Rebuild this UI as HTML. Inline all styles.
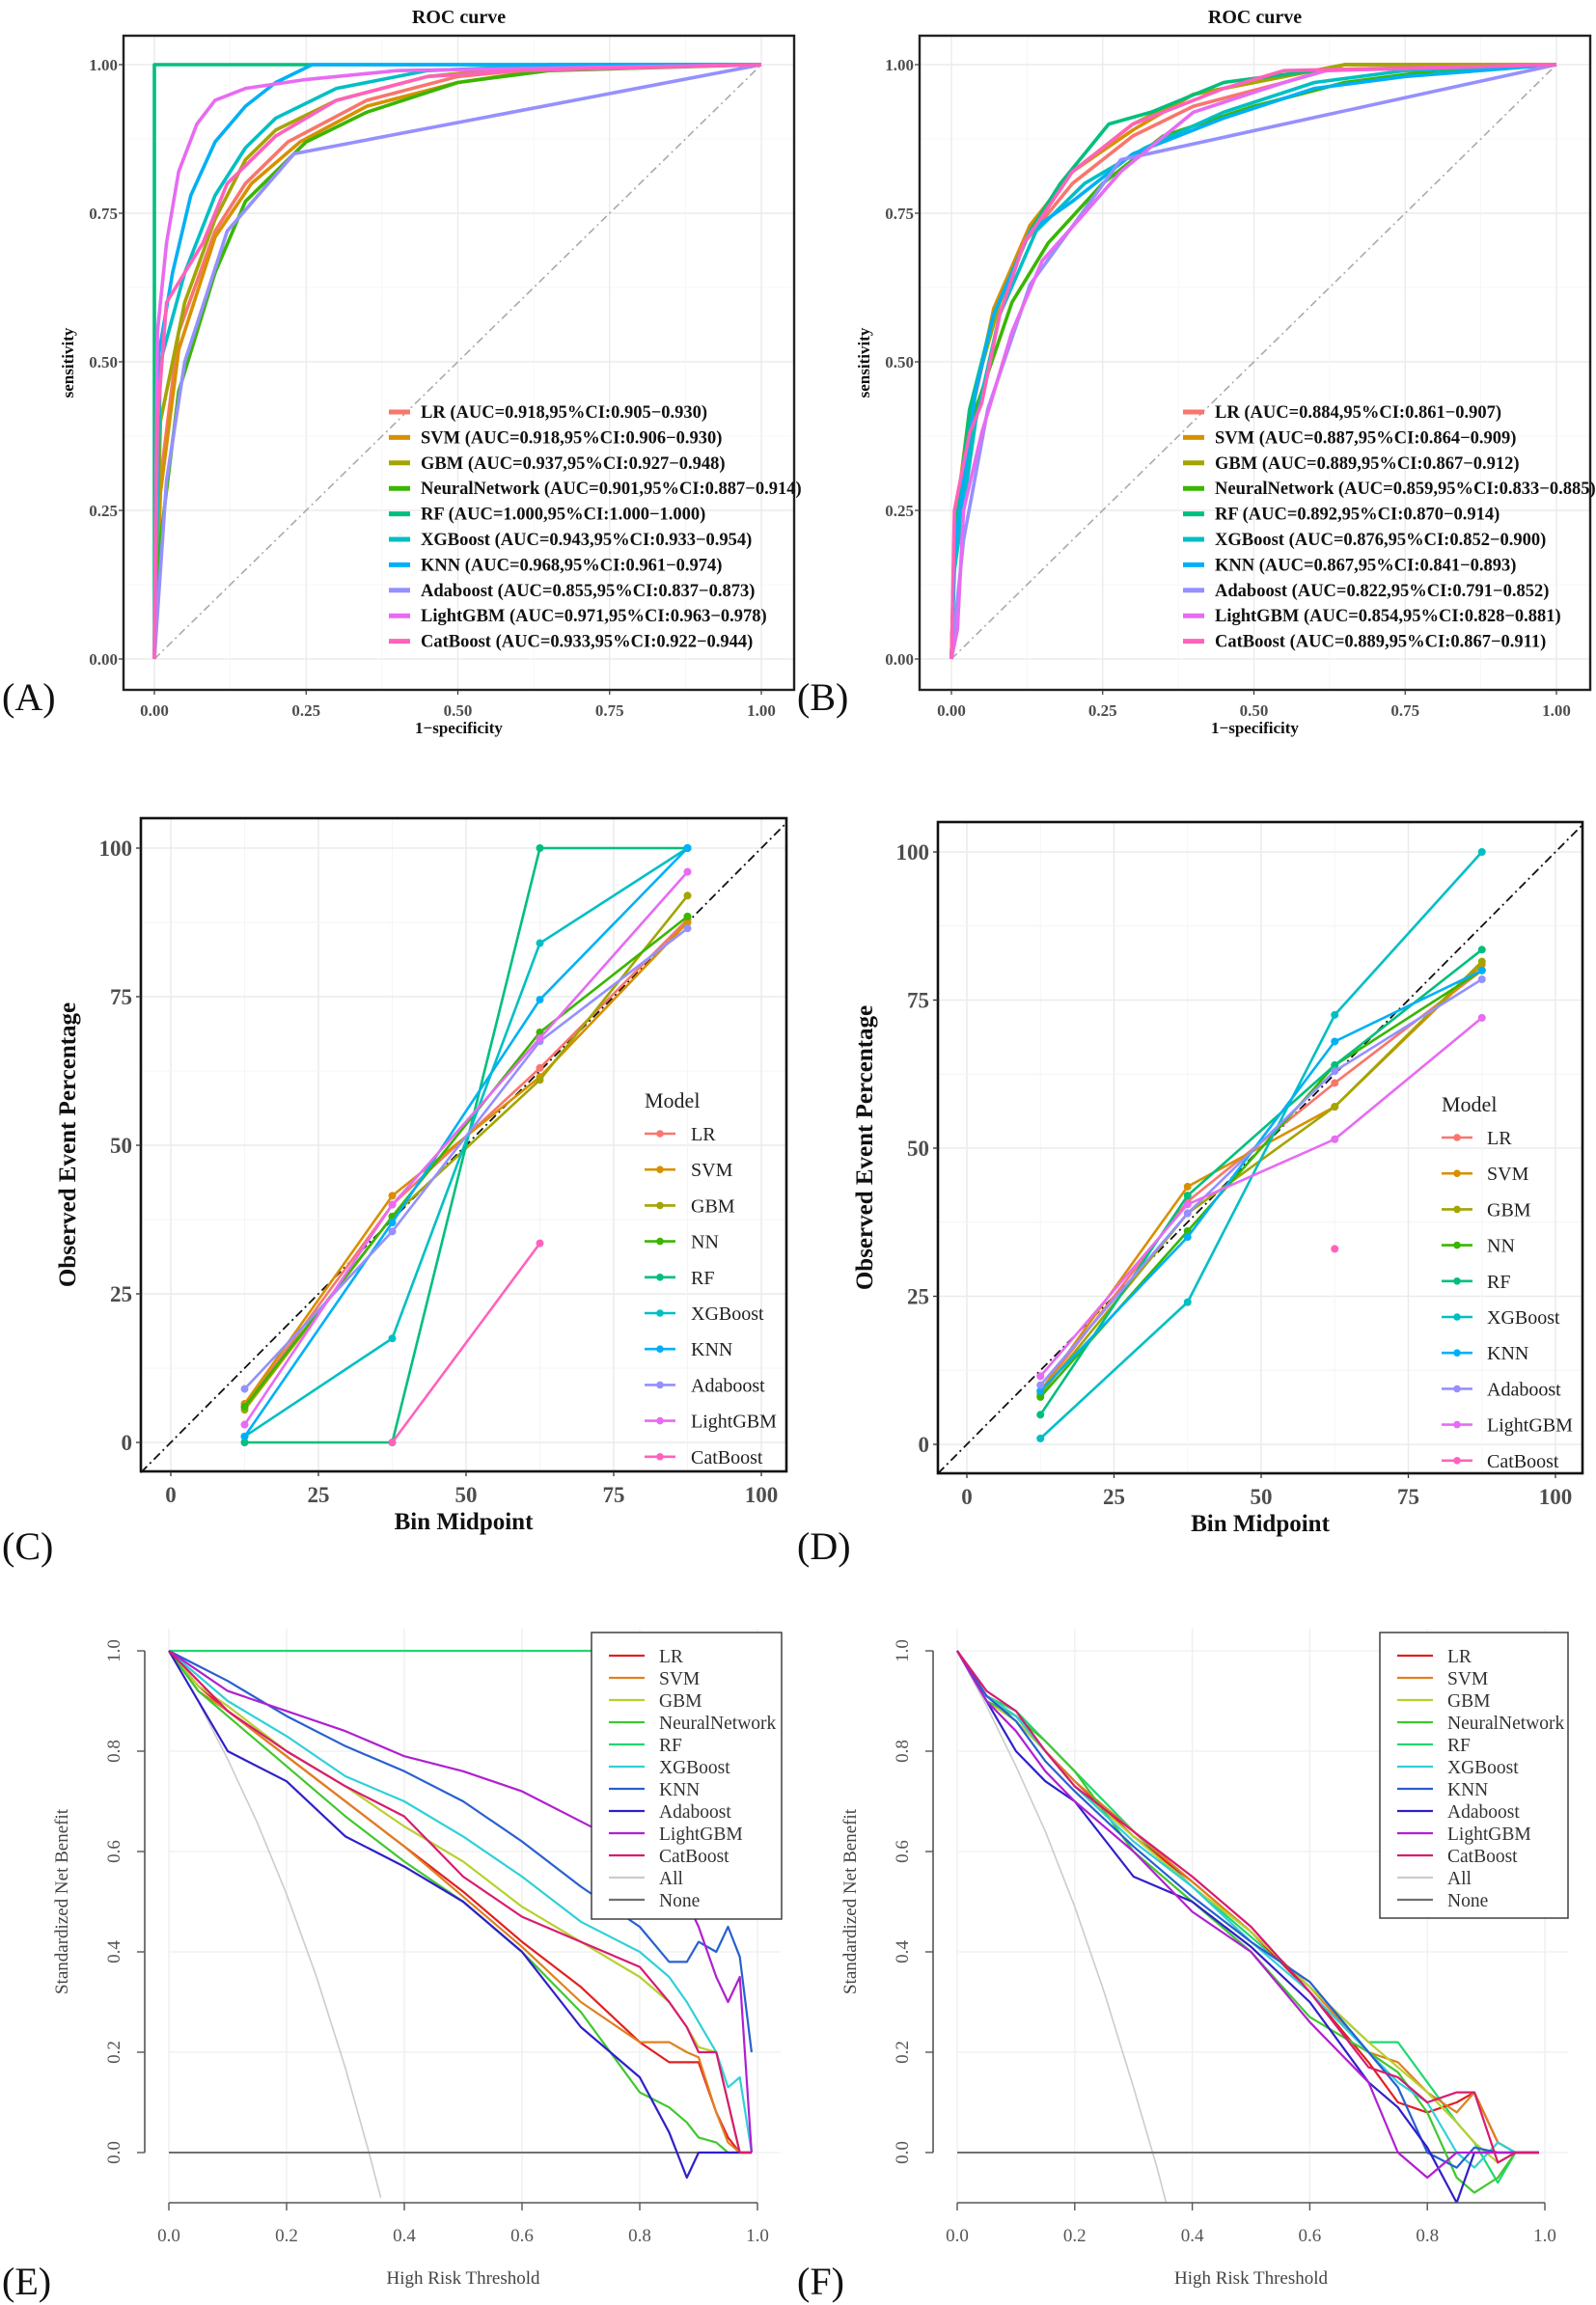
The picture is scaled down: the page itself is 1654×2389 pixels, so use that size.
<!DOCTYPE html>
<html><head><meta charset="utf-8">
<style>
html,body{margin:0;padding:0;background:#fff;}
svg{display:block;}
</style></head>
<body>
<svg id="fig" width="1654" height="2389" viewBox="0 0 1654 2389" xmlns="http://www.w3.org/2000/svg">
<defs>
<clipPath id="clipE"><rect x="150" y="1680" width="665" height="606"/></clipPath>
<clipPath id="clipF"><rect x="965" y="1680" width="665" height="603"/></clipPath>
</defs>
</svg>
<script>
// ---------- shared ----------
const models = ["LR","SVM","GBM","NeuralNetwork","RF","XGBoost","KNN","Adaboost","LightGBM","CatBoost"];
const calModels = ["LR","SVM","GBM","NN","RF","XGBoost","KNN","Adaboost","LightGBM","CatBoost"];
// ---------- ROC A data (fpr, tpr) ----------
const rocAfpr = [
 [0,0.01,0.04,0.1,0.15,0.22,0.35,0.5,0.7,1],
 [0,0.01,0.04,0.1,0.16,0.24,0.35,0.5,0.7,1],
 [0,0.01,0.05,0.1,0.15,0.2,0.3,0.45,0.65,1],
 [0,0.01,0.04,0.1,0.15,0.25,0.35,0.5,0.65,1],
 [0,0,1],
 [0,0.01,0.05,0.1,0.15,0.2,0.3,0.45,0.7,1],
 [0,0.005,0.03,0.06,0.1,0.15,0.2,0.25,0.26,1],
 [0,0.02,0.05,0.12,0.23,1],
 [0,0.005,0.02,0.04,0.07,0.1,0.15,0.25,0.4,1],
 [0,0.005,0.02,0.08,0.12,0.2,0.3,0.45,0.6,1]];
const rocAtpr = [
 [0,0.3,0.55,0.72,0.8,0.87,0.94,0.98,1,1],
 [0,0.28,0.52,0.71,0.8,0.87,0.93,0.97,1,1],
 [0,0.4,0.6,0.74,0.84,0.89,0.94,0.98,1,1],
 [0,0.2,0.45,0.65,0.77,0.87,0.92,0.97,0.99,1],
 [0,1,1],
 [0,0.5,0.65,0.78,0.86,0.91,0.96,0.99,1,1],
 [0,0.5,0.65,0.78,0.87,0.93,0.97,0.995,1,1],
 [0,0.3,0.5,0.72,0.85,1],
 [0,0.55,0.7,0.82,0.9,0.94,0.96,0.975,0.99,1],
 [0,0.4,0.6,0.7,0.8,0.88,0.94,0.98,0.99,1]];
const rocAlabels = ["LR (AUC=0.918,95%CI:0.905\u22120.930)","SVM (AUC=0.918,95%CI:0.906\u22120.930)","GBM (AUC=0.937,95%CI:0.927\u22120.948)","NeuralNetwork (AUC=0.901,95%CI:0.887\u22120.914)","RF (AUC=1.000,95%CI:1.000\u22121.000)","XGBoost (AUC=0.943,95%CI:0.933\u22120.954)","KNN (AUC=0.968,95%CI:0.961\u22120.974)","Adaboost (AUC=0.855,95%CI:0.837\u22120.873)","LightGBM (AUC=0.971,95%CI:0.963\u22120.978)","CatBoost (AUC=0.933,95%CI:0.922\u22120.944)"];
// ---------- ROC B data ----------
const rocBfpr = [
 [0,0.005,0.03,0.07,0.12,0.2,0.3,0.4,0.55,0.65,1],
 [0,0.005,0.03,0.07,0.13,0.2,0.3,0.4,0.55,0.65,1],
 [0,0.005,0.03,0.08,0.13,0.2,0.3,0.4,0.55,0.65,1],
 [0,0.005,0.04,0.1,0.16,0.25,0.35,0.5,0.65,0.8,1],
 [0,0.005,0.03,0.07,0.13,0.18,0.26,0.33,0.45,0.6,1],
 [0,0.005,0.04,0.08,0.14,0.22,0.32,0.45,0.6,0.75,1],
 [0,0.005,0.04,0.07,0.13,0.2,0.3,0.45,0.6,0.75,1],
 [0,0.02,0.06,0.13,0.28,1],
 [0,0.01,0.02,0.05,0.1,0.15,0.22,0.28,0.4,0.55,0.62,1],
 [0,0.005,0.03,0.05,0.08,0.12,0.2,0.3,0.45,0.55,1]];
const rocBtpr = [
 [0,0.2,0.4,0.58,0.7,0.8,0.88,0.93,0.97,1,1],
 [0,0.2,0.4,0.59,0.73,0.82,0.89,0.95,0.98,1,1],
 [0,0.22,0.42,0.6,0.72,0.82,0.9,0.95,0.98,1,1],
 [0,0.18,0.42,0.6,0.7,0.8,0.88,0.93,0.97,0.99,1],
 [0,0.2,0.42,0.58,0.72,0.8,0.9,0.92,0.97,0.99,1],
 [0,0.15,0.4,0.58,0.72,0.8,0.86,0.92,0.97,0.99,1],
 [0,0.18,0.45,0.58,0.72,0.77,0.85,0.91,0.96,0.98,1],
 [0,0.2,0.42,0.63,0.84,1],
 [0,0.05,0.25,0.38,0.55,0.67,0.75,0.82,0.92,0.97,0.99,1],
 [0,0.25,0.38,0.43,0.58,0.7,0.82,0.9,0.96,0.99,1]];
const rocBlabels = ["LR (AUC=0.884,95%CI:0.861\u22120.907)","SVM (AUC=0.887,95%CI:0.864\u22120.909)","GBM (AUC=0.889,95%CI:0.867\u22120.912)","NeuralNetwork (AUC=0.859,95%CI:0.833\u22120.885)","RF (AUC=0.892,95%CI:0.870\u22120.914)","XGBoost (AUC=0.876,95%CI:0.852\u22120.900)","KNN (AUC=0.867,95%CI:0.841\u22120.893)","Adaboost (AUC=0.822,95%CI:0.791\u22120.852)","LightGBM (AUC=0.854,95%CI:0.828\u22120.881)","CatBoost (AUC=0.889,95%CI:0.867\u22120.911)"];
const rocTicks = [0,0.25,0.5,0.75,1];
const rocTickLabels = ["0.00","0.25","0.50","0.75","1.00"];
// ---------- Calibration data ----------
const binMid = [12.5,37.5,62.5,87.5];
const calC = [
 [6,40,63,88],[6.5,41.5,61.5,87.5],[5.5,38,61,92],[6,38,69,88.5],[0,0,100,100],
 [1,17.5,84,100],[1,37,74.5,100],[9,35.5,67.5,86.5],[3,40,68,96],[null,0,33.5,null]];
const calD = [
 [9,41,61,80],[9,43.5,57,81],[8.5,39,57,81.5],[8,36,64,80],[5,42,64,83.5],
 [1,24,72.5,100],[9,35,68,80],[10,39,63,78.5],[11.5,40.5,51.5,72],[null,null,33,null]];
const calTicks = [0,25,50,75,100];
// ---------- DCA data ----------
const tE = [0,0.05,0.1,0.2,0.3,0.4,0.5,0.6,0.7,0.8,0.85,0.88,0.9,0.93,0.95,0.97,0.99];
const dcaE = [
 [1,0.93,0.88,0.79,0.7,0.61,0.52,0.42,0.33,0.22,0.18,0.18,0.18,0.08,0.03,0,0],
 [1,0.92,0.88,0.79,0.7,0.61,0.51,0.41,0.3,0.22,0.22,0.2,0.19,0.08,0.02,0,0],
 [1,0.93,0.89,0.8,0.73,0.65,0.58,0.49,0.42,0.35,0.3,0.25,0.21,0.2,0.1,0,0],
 [1,0.92,0.87,0.77,0.67,0.58,0.5,0.4,0.28,0.12,0.09,0.06,0.03,0.02,0,0,0],
 [1,1,1,1,1,1,1,1,1,1,1,1,1,1,1,1,1],
 [1,0.95,0.9,0.83,0.75,0.7,0.63,0.55,0.46,0.4,0.35,0.3,0.26,0.2,0.13,0.15,0],
 [1,0.97,0.94,0.87,0.81,0.76,0.7,0.62,0.53,0.45,0.38,0.38,0.42,0.4,0.45,0.39,0.2],
 [1,0.9,0.8,0.74,0.63,0.57,0.5,0.4,0.25,0.15,0.04,-0.05,0,0,0,0,0],
 [1,0.96,0.92,0.88,0.84,0.79,0.76,0.72,0.66,0.6,0.55,0.5,0.45,0.35,0.3,0.35,0],
 [1,0.94,0.88,0.8,0.73,0.67,0.55,0.47,0.42,0.37,0.3,0.25,0.2,0.2,0.1,0,0]];
const tF = [0,0.05,0.1,0.15,0.2,0.3,0.4,0.5,0.6,0.7,0.75,0.8,0.85,0.88,0.92,0.95,0.99];
const dcaF = [
 [1,0.91,0.87,0.8,0.74,0.63,0.54,0.44,0.32,0.18,0.1,0.08,0.1,0.12,0.02,0,0],
 [1,0.91,0.87,0.8,0.74,0.64,0.54,0.44,0.33,0.2,0.18,0.12,0.08,0.12,0.02,0,0],
 [1,0.9,0.86,0.8,0.73,0.63,0.53,0.44,0.33,0.22,0.17,0.12,0.06,0.02,-0.02,0,0],
 [1,0.9,0.87,0.82,0.76,0.6,0.5,0.4,0.27,0.2,0.16,0.08,-0.05,-0.08,-0.05,0,0],
 [1,0.91,0.88,0.82,0.76,0.64,0.53,0.43,0.33,0.22,0.22,0.14,0.06,0.02,-0.06,0,0],
 [1,0.91,0.87,0.8,0.73,0.62,0.53,0.42,0.32,0.2,0.14,0.1,0,-0.03,0.02,0,0],
 [1,0.91,0.86,0.78,0.72,0.61,0.51,0.42,0.34,0.2,0.13,0,-0.03,0.01,0,0,0],
 [1,0.9,0.8,0.74,0.7,0.55,0.5,0.41,0.3,0.14,0.09,0.01,-0.1,0,0,0,0],
 [1,0.9,0.84,0.76,0.7,0.6,0.48,0.4,0.26,0.14,0,-0.05,0,0,0,0,0],
 [1,0.92,0.88,0.8,0.73,0.64,0.55,0.45,0.32,0.17,0.15,0.1,0.12,0.12,-0.02,0,0]];
const tAll = [0,0.05,0.1,0.15,0.2,0.25,0.3,0.34,0.36];
const nbAllE = [1,0.898,0.784,0.658,0.515,0.353,0.168,0,-0.09];
const nbAllF = [1,0.89,0.77,0.64,0.49,0.32,0.13,-0.03,-0.12];
const dcaTicks = [0,0.2,0.4,0.6,0.8,1];
const dcaTickLabels = ["0.0","0.2","0.4","0.6","0.8","1.0"];
const dcaLegend = ["LR","SVM","GBM","NeuralNetwork","RF","XGBoost","KNN","Adaboost","LightGBM","CatBoost","All","None"];

const ggCol = ["#F8766D","#D89000","#A3A500","#39B600","#00BF7D","#00BFC4","#00B0F6","#9590FF","#E76BF3","#FF62BC"];
const dcaCol = ["#E02020","#E08020","#B8D030","#40C830","#20D870","#30D0D8","#2860D0","#3020C8","#B020D0","#D81C70","#CCCCCC","#707070"];

const svg = document.getElementById('fig');
const NS = "http://www.w3.org/2000/svg";
function el(tag, attrs, parent){
  const e = document.createElementNS(NS, tag);
  for (const k in attrs) e.setAttribute(k, attrs[k]);
  (parent||svg).appendChild(e);
  return e;
}
function txt(s, attrs, parent){ const t = el('text', attrs, parent); t.textContent = s; return t; }
const SERIF = '"Liberation Serif", serif';

// ---------- ROC panels ----------
function rocPanel(name, P, fprs, tprs, labels, leg){
  const g = el('g', {});
  
  
  const sx = v => P.x0 + v*(P.x1-P.x0);
  const sy = v => P.y0 + v*(P.y1-P.y0);
  for (let i=0;i<=8;i++){
    const v=i/8, maj = i%2===0;
    const gl = el('line',{x1:sx(v),x2:sx(v),y1:P.ft,y2:P.fb,stroke:maj?'#ebebeb':'#f4f4f4','stroke-width':maj?1.4:0.8},g);
    
    
    const gh = el('line',{x1:P.fl,x2:P.fr,y1:sy(v),y2:sy(v),stroke:maj?'#ebebeb':'#f4f4f4','stroke-width':maj?1.4:0.8},g);
    
    
  }
  const dg = el('line',{x1:sx(0),y1:sy(0),x2:sx(1),y2:sy(1),stroke:'#aaaaaa','stroke-width':1.6,'stroke-dasharray':'8 4 2 4'},g);
  
  
  for (let m=0;m<fprs.length;m++){
    const pts = fprs[m].map((f,i)=>sx(f)+','+sy(tprs[m][i])).join(' ');
    const pl = el('polyline',{points:pts,fill:'none',stroke:ggCol[m],'stroke-width':3.6,'stroke-linejoin':'round'},g);
    
    
  }
  const fr = el('rect',{x:P.fl,y:P.ft,width:P.fr-P.fl,height:P.fb-P.ft,fill:'none',stroke:'#222','stroke-width':2.4},g);
  
  
  rocTicks.forEach((v,i)=>{
    const tx = txt(rocTickLabels[i],{x:sx(v),y:P.fb+27,'text-anchor':'middle','font-family':SERIF,'font-weight':'bold','font-size':17,fill:'#4d4d4d'},g);
    
    
    el('line',{x1:sx(v),x2:sx(v),y1:P.fb,y2:P.fb+5,stroke:'#333','stroke-width':1.2},g);
    const ty = txt(rocTickLabels[i],{x:P.fl-6,y:sy(v)+6,'text-anchor':'end','font-family':SERIF,'font-weight':'bold','font-size':17,fill:'#4d4d4d'},g);
    
    
    el('line',{x1:P.fl-5,x2:P.fl,y1:sy(v),y2:sy(v),stroke:'#333','stroke-width':1.2},g);
  });
  const t = txt('ROC curve',{x:(P.fl+P.fr)/2,y:24,'text-anchor':'middle','font-family':SERIF,'font-weight':'bold','font-size':20,fill:'#111'},g);
  
  
  const xt = txt('1\u2212specificity',{x:(P.fl+P.fr)/2,y:P.fb+45,'text-anchor':'middle','font-family':SERIF,'font-weight':'bold','font-size':17,fill:'#111'},g);
  
  
  const yt = txt('sensitivity',{x:0,y:0,'text-anchor':'middle','font-family':SERIF,'font-weight':'bold','font-size':17,fill:'#111',transform:'translate('+(P.fl-52)+','+((P.ft+P.fb)/2)+') rotate(-90)'},g);
  
  
  labels.forEach((s,i)=>{
    const y = leg.y + i*26.4;
    const ln = el('line',{x1:leg.lx,x2:leg.lx+22,y1:y,y2:y,stroke:ggCol[i],'stroke-width':5},g);
    
    
    const lt = txt(s,{x:leg.tx,y:y+6,'font-family':SERIF,'font-weight':'bold','font-size':18.5,fill:'#111'},g);
    
    
  });
}
rocPanel('roc-chart-a',{x0:160,x1:789,y0:683,y1:67,fl:128,fr:823,ft:37,fb:715},rocAfpr,rocAtpr,rocAlabels,{y:427,lx:403,tx:436});
rocPanel('roc-chart-b',{x0:986,x1:1613,y0:683,y1:67,fl:953,fr:1648,ft:37,fb:715},rocBfpr,rocBtpr,rocBlabels,{y:427,lx:1226,tx:1259});

// ---------- Calibration panels ----------
function calPanel(name, P, data, leg){
  const g = el('g', {});
  
  
  const sx = v => P.x0 + v/100*(P.x1-P.x0);
  const sy = v => P.y0 + v/100*(P.y1-P.y0);
  for (let i=0;i<=8;i++){
    const v=i*12.5, maj=i%2===0;
    const a = el('line',{x1:sx(v),x2:sx(v),y1:P.ft,y2:P.fb,stroke:maj?'#ebebeb':'#f4f4f4','stroke-width':maj?1.5:0.9},g);
    
    
    const b = el('line',{x1:P.fl,x2:P.fr,y1:sy(v),y2:sy(v),stroke:maj?'#ebebeb':'#f4f4f4','stroke-width':maj?1.5:0.9},g);
    
    
  }
  const lo = (P.fl-P.x0)/(P.x1-P.x0)*100, hi=(P.fr-P.x0)/(P.x1-P.x0)*100;
  const dg = el('line',{x1:sx(lo),y1:sy(lo),x2:sx(hi),y2:sy(hi),stroke:'#111','stroke-width':1.8,'stroke-dasharray':'9 4 2 4'},g);
  
  
  for (let m=0;m<data.length;m++){
    const pts=[]; 
    data[m].forEach((v,i)=>{ if(v!==null) pts.push([sx(binMid[i]),sy(v)]); });
    if (pts.length>1){
      const pl = el('polyline',{points:pts.map(p=>p.join(',')).join(' '),fill:'none',stroke:ggCol[m],'stroke-width':2.6},g);
      
      
    }
    pts.forEach(p=>{
      const c = el('circle',{cx:p[0],cy:p[1],r:4,fill:ggCol[m]},g);
      
      
    });
  }
  const fr = el('rect',{x:P.fl,y:P.ft,width:P.fr-P.fl,height:P.fb-P.ft,fill:'none',stroke:'#111','stroke-width':2.6},g);
  
  
  calTicks.forEach(v=>{
    el('line',{x1:sx(v),x2:sx(v),y1:P.fb,y2:P.fb+5,stroke:'#333','stroke-width':1.3},g);
    const tx = txt(String(v),{x:sx(v),y:P.fb+32,'text-anchor':'middle','font-family':SERIF,'font-weight':'bold','font-size':23,fill:'#4d4d4d'},g);
    
    
    el('line',{x1:P.fl-5,x2:P.fl,y1:sy(v),y2:sy(v),stroke:'#333','stroke-width':1.3},g);
    const ty = txt(String(v),{x:P.fl-9,y:sy(v)+8,'text-anchor':'end','font-family':SERIF,'font-weight':'bold','font-size':23,fill:'#4d4d4d'},g);
    
    
  });
  const xt = txt('Bin Midpoint',{x:(P.fl+P.fr)/2,y:P.fb+60,'text-anchor':'middle','font-family':SERIF,'font-weight':'bold','font-size':25,fill:'#111'},g);
  
  
  const yt = txt('Observed Event Percentage',{x:0,y:0,'text-anchor':'middle','font-family':SERIF,'font-weight':'bold','font-size':25,fill:'#111',transform:'translate('+(P.fl-68)+','+((P.ft+P.fb)/2)+') rotate(-90)'},g);
  
  
  const lt = txt('Model',{x:leg.lx,y:leg.ty,'font-family':SERIF,'font-size':22,fill:'#222'},g);
  
  
  calModels.forEach((s,i)=>{
    const y = leg.y + i*37.2;
    const ln = el('line',{x1:leg.lx,x2:leg.lx+32,y1:y,y2:y,stroke:ggCol[i],'stroke-width':2.6},g);
    
    
    el('circle',{cx:leg.lx+16,cy:y,r:3.8,fill:ggCol[i]},g);
    const tt = txt(s,{x:leg.tx,y:y+7,'font-family':SERIF,'font-size':20,fill:'#222'},g);
    
    
  });
}
calPanel('calibration-chart-c',{x0:177,x1:789,y0:1495,y1:879,fl:146,fr:815,ft:848,fb:1525},calC,{lx:668,tx:716,ty:1148,y:1175});
calPanel('calibration-chart-d',{x0:1002,x1:1612,y0:1497,y1:883,fl:972,fr:1640,ft:852,fb:1527},calD,{lx:1494,tx:1541,ty:1152,y:1179});

// ---------- DCA panels ----------
function dcaPanel(name, P, ts, data, nbAll, clip, leg){
  const g = el('g', {});
  
  
  const sx = v => P.x0 + v*(P.x1-P.x0);
  const sy = v => P.y0 + v*(P.y1-P.y0);
  for (let i=0;i<=5;i++){
    const v=i*0.2;
    const a = el('line',{x1:sx(v),x2:sx(v),y1:P.gt,y2:P.ax,stroke:'#efefef','stroke-width':1.3},g);
    
    
    const b = el('line',{x1:sx(0),x2:sx(1.04),y1:sy(v),y2:sy(v),stroke:'#efefef','stroke-width':1.3},g);
    
    
  }
  const cg = el('g',{'clip-path':'url(#'+clip+')'},g);
  const all = el('polyline',{points:tAll.map((t,i)=>sx(t)+','+sy(nbAll[i])).join(' '),fill:'none',stroke:dcaCol[10],'stroke-width':1.6},cg);
  
  
  const none = el('line',{x1:sx(0),x2:sx(0.99),y1:sy(0),y2:sy(0),stroke:dcaCol[11],'stroke-width':2},cg);
  
  
  const order=[4,0,1,2,3,5,6,7,8,9];
  order.forEach(m=>{
    const pl = el('polyline',{points:ts.map((t,i)=>sx(t)+','+sy(data[m][i])).join(' '),fill:'none',stroke:dcaCol[m],'stroke-width':2.2,'stroke-linejoin':'round'},cg);
    
    
  });
  const ya = el('line',{x1:P.ayx,x2:P.ayx,y1:sy(1),y2:sy(0),stroke:'#555','stroke-width':1.6},g);
  
  
  const xa = el('line',{x1:sx(0),x2:sx(1),y1:P.ax,y2:P.ax,stroke:'#555','stroke-width':1.6},g);
  
  
  dcaTicks.forEach((v,i)=>{
    el('line',{x1:sx(v),x2:sx(v),y1:P.ax,y2:P.ax+8,stroke:'#555','stroke-width':1.4},g);
    const tx = txt(dcaTickLabels[i],{x:sx(v),y:P.ax+40,'text-anchor':'middle','font-family':SERIF,'font-size':19,fill:'#555'},g);
    
    
    el('line',{x1:P.ayx-8,x2:P.ayx,y1:sy(v),y2:sy(v),stroke:'#555','stroke-width':1.4},g);
    const ty = txt(dcaTickLabels[i],{x:0,y:0,'text-anchor':'middle','font-family':SERIF,'font-size':19,fill:'#555',transform:'translate('+(P.ayx-26)+','+sy(v)+') rotate(-90)'},g);
    
    
  });
  const xt = txt('High Risk Threshold',{x:sx(0.5),y:P.ax+84,'text-anchor':'middle','font-family':SERIF,'font-size':19,fill:'#444'},g);
  
  
  const yt = txt('Standardized Net Benefit',{x:0,y:0,'text-anchor':'middle','font-family':SERIF,'font-size':19,fill:'#444',transform:'translate('+(P.ayx-80)+','+sy(0.5)+') rotate(-90)'},g);
  
  
  const box = el('rect',{x:leg.x,y:leg.y,width:leg.w,height:leg.h,fill:'#fff',stroke:'#333','stroke-width':1.4},g);
  
  
  dcaLegend.forEach((s,i)=>{
    const y = leg.y + 24 + i*23;
    const ln = el('line',{x1:leg.x+18,x2:leg.x+55,y1:y,y2:y,stroke:dcaCol[i],'stroke-width':2.2},g);
    
    
    const tt = txt(s,{x:leg.x+70,y:y+7,'font-family':SERIF,'font-size':19.5,fill:'#333'},g);
    
    
  });
}
dcaPanel('dca-chart-e',{x0:175,x1:785,y0:2231,y1:1711,ayx:150,ax:2283,gt:1688},tE,dcaE,nbAllE,'clipE',{x:613,y:1692,w:197,h:297});
dcaPanel('dca-chart-f',{x0:992,x1:1601,y0:2231,y1:1711,ayx:967,ax:2283,gt:1688},tF,dcaF,nbAllF,'clipF',{x:1430,y:1692,w:195,h:296});

// ---------- panel letters ----------
const letters = [["(A)",2,736],["(B)",826,736],["(C)",2,1616],["(D)",826,1616],["(E)",2,2378],["(F)",826,2378]];
letters.forEach(l=>{
  const t = txt(l[0],{x:l[1],y:l[2],'font-family':SERIF,'font-size':40,fill:'#111'});
  
  
});
</script>
</body></html>
